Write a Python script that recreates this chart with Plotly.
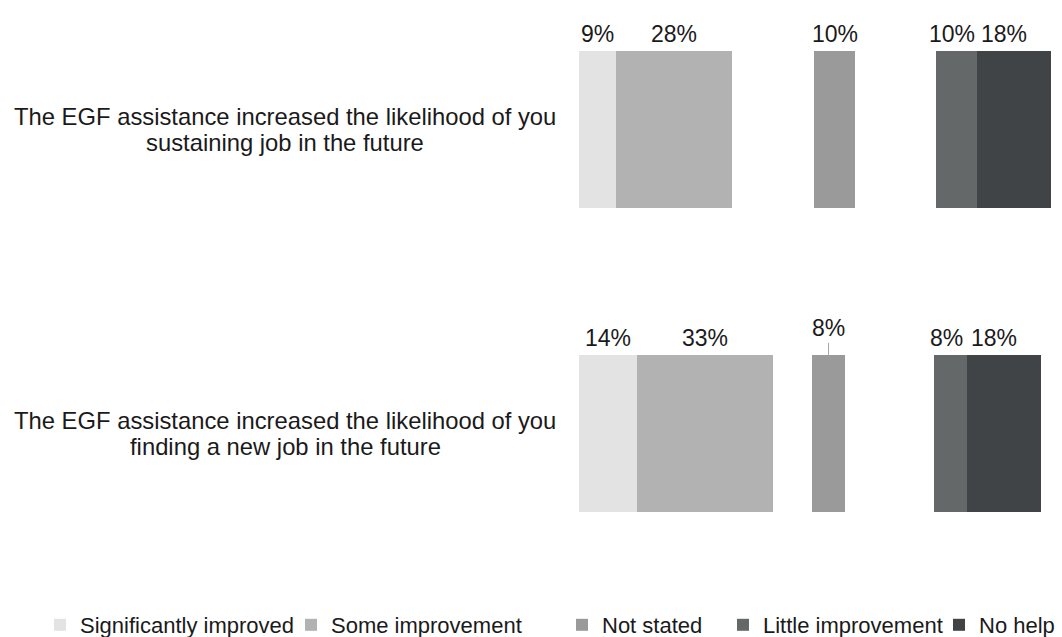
import plotly.graph_objects as go

# Survey statements (one bar each) and the two text lines used for each label
rows = ["sustaining", "finding"]
row_label_lines = [
    ["The EGF assistance increased the likelihood of you", "sustaining job in the future"],
    ["The EGF assistance increased the likelihood of you", "finding a new job in the future"],
]

# Response shares, in percent
significantly_improved = [9, 14]
some_improvement = [28, 33]
not_stated = [10, 8]
little_improvement = [10, 8]
no_help = [18, 18]

# Invisible offsets that separate the positive, neutral and negative groups
gap_before_not_stated = [20, 9.5]
gap_after_not_stated = [19.5, 21.5]

series_names = ["Significantly improved", "Some improvement", "Not stated",
                "Little improvement", "No help"]
series_values = [significantly_improved, some_improvement, not_stated,
                 little_improvement, no_help]
series_colors = ["#e3e3e3", "#b2b2b2", "#9a9a9a", "#646868", "#404447"]

FONT = "Liberation Sans, Arial, sans-serif"
TEXT_COLOR = "#1a1a1a"
BAR_WIDTH = 0.515

# Stack order: visible series interleaved with the transparent spacers
stack = [
    ("series", 0), ("series", 1), ("gap", gap_before_not_stated),
    ("series", 2), ("gap", gap_after_not_stated),
    ("series", 3), ("series", 4),
]

fig = go.Figure()
legend_ids = ["legend", "legend2", "legend3", "legend4", "legend5"]
for kind, ref in stack:
    if kind == "gap":
        fig.add_trace(go.Bar(
            y=rows, x=ref, orientation="h", width=BAR_WIDTH,
            marker=dict(color="rgba(0,0,0,0)", line=dict(width=0)),
            showlegend=False, hoverinfo="skip",
        ))
    else:
        fig.add_trace(go.Bar(
            y=rows, x=series_values[ref], orientation="h", width=BAR_WIDTH,
            name=series_names[ref],
            marker=dict(color=series_colors[ref], line=dict(width=0)),
            legend=legend_ids[ref],
        ))

# Value labels above every visible segment
label_xshift = [0, 0, 0, -4, -10]
for r in range(len(rows)):
    left = 0.0
    for kind, ref in stack:
        if kind == "gap":
            left += ref[r]
            continue
        v = series_values[ref][r]
        centre = left + v / 2
        left += v
        top_edge = r - BAR_WIDTH / 2
        ann = dict(
            x=centre, y=top_edge, xref="x", yref="y", text=f"{v}%",
            font=dict(family=FONT, size=23, color=TEXT_COLOR),
            xanchor="center", yanchor="bottom", xshift=label_xshift[ref],
            showarrow=False, yshift=2,
        )
        if ref == 2 and r == 1:
            # small neutral segment: label lifted with a leader line
            ann.update(showarrow=True, arrowhead=0, arrowwidth=1,
                       arrowcolor="#a6a6a6", ax=0, ay=-27, yanchor="middle",
                       yshift=0)
        fig.add_annotation(**ann)

# Statement labels, centred lines left of the bars
for r, lines in enumerate(row_label_lines):
    for k, line in enumerate(lines):
        fig.add_annotation(
            x=0, y=r, xref="paper", yref="y", text=line,
            font=dict(family=FONT, size=23.8, color=TEXT_COLOR),
            xanchor="center", yanchor="middle", xshift=-294,
            yshift=13 if k == 0 else -13, showarrow=False,
        )

# One legend per series so each entry sits where the layout needs it
legend_text_left = [80, 331, 602, 763, 979]
layout_legends = {}
for i, lid in enumerate(legend_ids):
    layout_legends[lid] = dict(
        x=(legend_text_left[i] - 40) / 1062, xref="container", xanchor="left",
        y=(637 - 625) / 637, yref="container", yanchor="middle",
        orientation="h", bgcolor="rgba(0,0,0,0)",
        font=dict(family=FONT, size=22, color=TEXT_COLOR),
    )

fig.update_layout(
    width=1062, height=637,
    margin=dict(l=579, r=0, t=0, b=0, autoexpand=False),
    barmode="stack", bargap=0,
    paper_bgcolor="white", plot_bgcolor="white",
    xaxis=dict(range=[0, 117.1], visible=False, fixedrange=True),
    yaxis=dict(range=[1.6683, -0.4257], visible=False, fixedrange=True,
               type="category", categoryarray=rows, categoryorder="array"),
    font=dict(family=FONT, color=TEXT_COLOR),
    **layout_legends,
)

fig.write_html("out.html")
